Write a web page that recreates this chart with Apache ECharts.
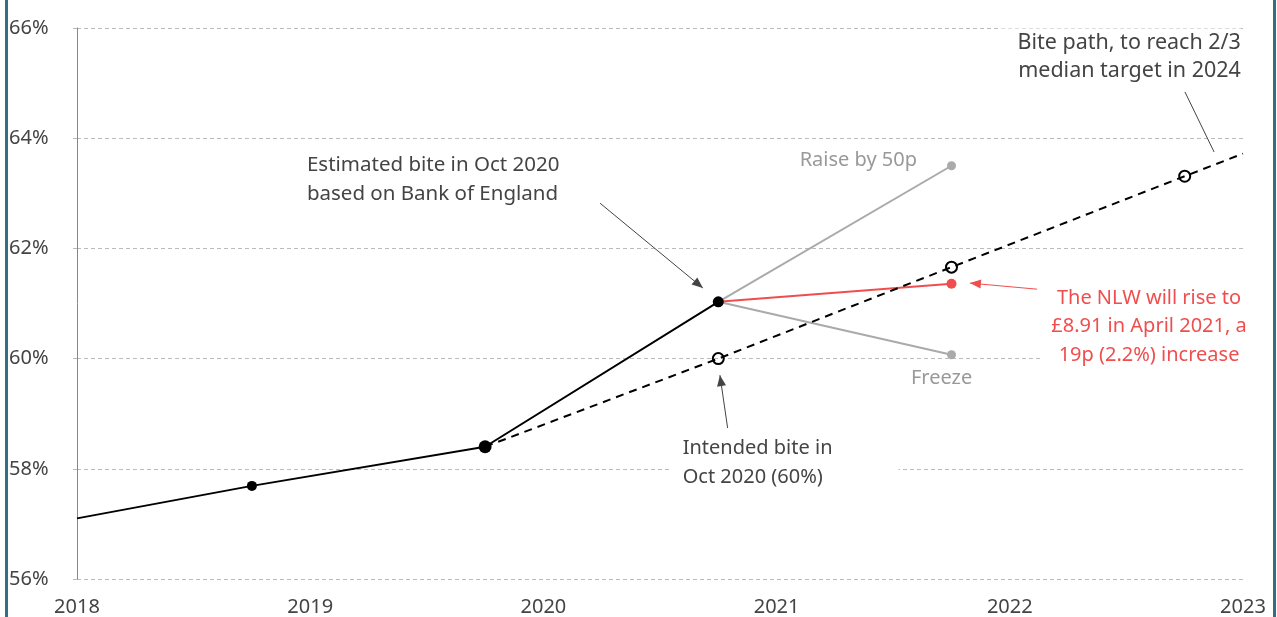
<!DOCTYPE html>
<html>
<head>
<meta charset="utf-8">
<script src="https://cdn.jsdelivr.net/npm/echarts@6/dist/echarts.min.js"></script>
<style>
  html, body { margin: 0; padding: 0; background: #fff; }
  #main { width: 1277px; height: 617px; }
</style>
</head>
<body>
<div id="main"></div>
<script>
// bite of the NLW, % of median pay (x = year, Oct = .75)
var actual = [[2018, 57.1], [2018.75, 57.69], [2019.75, 58.40], [2020.75, 61.03]]
var bitePath = [[2019.75, 58.40], [2020.75, 60.0], [2021.75, 61.66], [2022.75, 63.31], [2023, 63.72]]
var raise50p = [[2020.75, 61.03], [2021.75, 63.50]]
var freeze = [[2020.75, 61.03], [2021.75, 60.07]]
var nlw = [[2020.75, 61.03], [2021.75, 61.36]]

var FONT = 'Noto Sans'
var chart = echarts.init(document.getElementById('main'))

var option = {
  backgroundColor: '#fff',
  animation: false,
  grid: { left: 77, right: 34, top: 28, bottom: 38 },
  xAxis: {
    type: 'value',
    min: 2018,
    max: 2023,
    interval: 1,
    axisLine: { show: false },
    axisTick: { show: false },
    splitLine: { show: false },
    axisLabel: { color: '#444', fontSize: 20, fontFamily: FONT, margin: 18, formatter: function (v) { return String(v) } }
  },
  yAxis: {
    type: 'value',
    min: 56,
    max: 66,
    interval: 2,
    axisLine: { show: true, lineStyle: { color: '#888', width: 1 } },
    axisTick: { show: true, length: 7, lineStyle: { color: '#bbb', type: [4, 3] } },
    splitLine: { show: true, lineStyle: { color: '#bbb', type: [4, 3] } },
    axisLabel: { color: '#444', fontSize: 20, fontFamily: FONT, align: 'left', margin: 68, formatter: '{value}%' }
  },
  series: [
    {
      name: 'Raise by 50p', type: 'line', data: raise50p, z: 2,
      lineStyle: { color: '#aaa', width: 2 },
      symbol: 'circle', symbolSize: function (v, p) { return p.dataIndex === 1 ? 9 : 0 },
      itemStyle: { color: '#aaa' }
    },
    {
      name: 'Freeze', type: 'line', data: freeze, z: 2,
      lineStyle: { color: '#aaa', width: 2 },
      symbol: 'circle', symbolSize: function (v, p) { return p.dataIndex === 1 ? 9 : 0 },
      itemStyle: { color: '#aaa' }
    },
    {
      name: 'NLW', type: 'line', data: nlw, z: 3,
      lineStyle: { color: '#f04e4e', width: 2 },
      symbol: 'circle', symbolSize: function (v, p) { return p.dataIndex === 1 ? 10 : 0 },
      itemStyle: { color: '#f04e4e' }
    },
    {
      name: 'Bite path', type: 'line', data: bitePath, z: 4,
      lineStyle: { color: '#000', width: 2, type: [8, 6] },
      symbol: 'circle',
      symbolSize: function (v, p) { return (p.dataIndex === 0 || p.dataIndex === 4) ? 0 : 11 },
      itemStyle: { color: 'rgba(0,0,0,0)', borderColor: '#000', borderWidth: 2 }
    },
    {
      name: 'Actual', type: 'line', data: actual, z: 5,
      lineStyle: { color: '#000', width: 2 },
      symbol: 'circle',
      symbolSize: function (v, p) { return [0, 10, 13, 11][p.dataIndex] },
      itemStyle: { color: '#000' }
    }
  ]
}
chart.setOption(option)

// annotations, anchored in data space
function px(p) { return chart.convertToPixel({ gridIndex: 0 }, p) }

function label(text, at, opts) {
  var p = px(at)
  return {
    type: 'text', x: p[0], y: p[1], z: 20,
    style: Object.assign({
      text: text, fill: '#444', font: '20px "' + FONT + '"', lineHeight: 29,
      align: 'left', verticalAlign: 'top'
    }, opts || {})
  }
}

function arrow(from, to, color, head) {
  var a = px(from), b = px(to)
  var els = [{
    type: 'line', z: 15,
    shape: { x1: a[0], y1: a[1], x2: b[0], y2: b[1] },
    style: { stroke: color, lineWidth: 1 }
  }]
  if (head) {
    var ang = Math.atan2(b[1] - a[1], b[0] - a[0])
    var L = 11, W = 4.5
    var bx = b[0] - L * Math.cos(ang), by = b[1] - L * Math.sin(ang)
    els.push({
      type: 'polygon', z: 15,
      shape: { points: [
        [b[0], b[1]],
        [bx + W * Math.sin(ang), by - W * Math.cos(ang)],
        [bx - W * Math.sin(ang), by + W * Math.cos(ang)]
      ] },
      style: { fill: color }
    })
  }
  return els
}

var g = []
g.push(label('Estimated bite in Oct 2020\nbased on Bank of England', [2018.986, 63.78], { font: '20.5px "' + FONT + '"' }))
g = g.concat(arrow([2020.243, 62.82], [2020.684, 61.28], '#444', true))

g.push(label('Raise by 50p', [2021.602, 63.60], { fill: '#999', align: 'right', verticalAlign: 'middle' }))
g.push(label('Freeze', [2021.576, 59.65], { fill: '#999', verticalAlign: 'middle' }))

g.push(label('Intended bite in\nOct 2020 (60%)', [2020.546, 58.63],
  { backgroundColor: '#fff', padding: [0, 66, 0, 12] }))
g = g.concat(arrow([2020.79, 58.74], [2020.757, 59.70], '#444', true))

g.push(label('Bite path, to reach 2/3\nmedian target in 2024', [2022.991, 65.99],
  { align: 'right', lineHeight: 28, backgroundColor: '#fff', padding: [0, 0, 0, 18], font: '21.5px "' + FONT + '"' }))
g = g.concat(arrow([2022.751, 64.84], [2022.876, 63.75], '#444', false))

g.push(label('The NLW will rise to\n£8.91 in April 2021, a\n19p (2.2%) increase', [2022.597, 61.36],
  { fill: '#f04e4e', align: 'center', lineHeight: 28.5, backgroundColor: '#fff', padding: [0, 10, 0, 10] }))
g = g.concat(arrow([2022.117, 61.26], [2021.829, 61.37], '#f04e4e', true))

// teal frame edges
g.push({ type: 'rect', z: 30, shape: { x: 5, y: 0, width: 3, height: 617 }, style: { fill: '#31707f' } })
g.push({ type: 'rect', z: 30, shape: { x: 1273, y: 0, width: 3, height: 617 }, style: { fill: '#31707f' } })

chart.setOption({ graphic: g })
</script>
</body>
</html>
